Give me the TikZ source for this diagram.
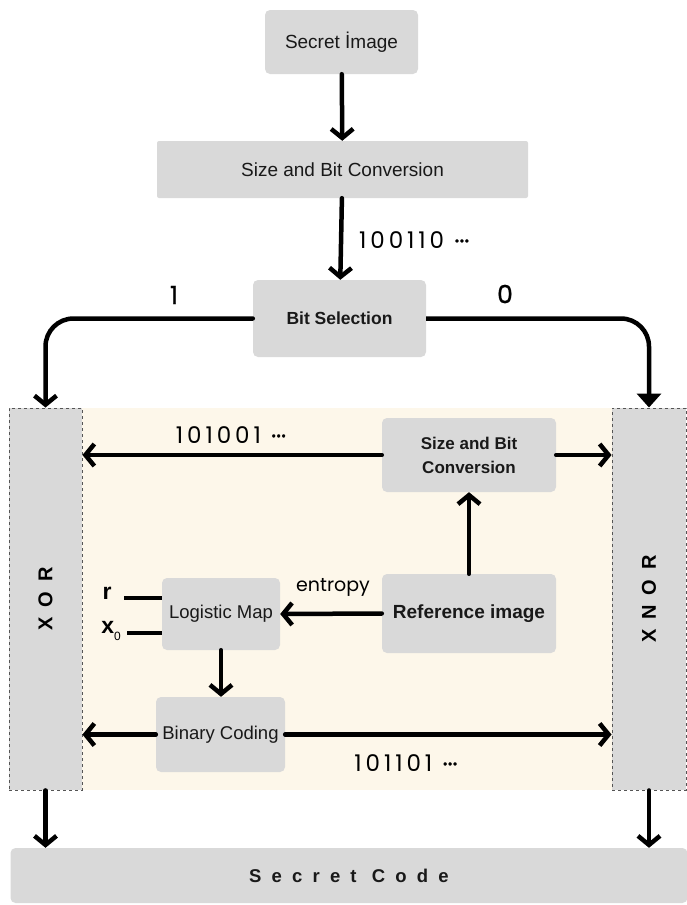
\documentclass[tikz,border=0pt]{standalone}
\usepackage{fontspec}
\setmainfont{Liberation Sans}
\newfontfamily\pop{Poppins}
\usetikzlibrary{arrows.meta}
\definecolor{boxgray}{HTML}{D9D9D9}
\definecolor{cream}{HTML}{FDF7EA}
\definecolor{dashgray}{HTML}{555555}
\newcommand{\numdots}{\raisebox{3.5pt}{\fontsize{12}{12}\selectfont\addfontfeature{FakeBold=2}•••}}
\newcommand{\bits}[1]{{\addfontfeature{LetterSpace=17}#1}\hspace{0.45em}\numdots}
\tikzset{
  box/.style={fill=boxgray, rounded corners=5pt, inner sep=0pt, align=center, text=black!90},
  gate/.style={fill=boxgray, draw=dashgray, dashed, line width=0.9pt, inner sep=0pt},
  gatetext/.style={rotate=90, font=\bfseries\fontsize{20}{22}\selectfont\addfontfeature{LetterSpace=50}},
  conn/.style={line width=4.5pt, line cap=round, -{Straight Barb[length=9pt,width=22pt,line width=4.5pt]}},
  connf/.style={line width=4.5pt, -{Triangle[length=14pt,width=24pt]}},
  plain/.style={line width=4.5pt},
  numlbl/.style={font=\pop\fontsize{23}{26}\selectfont, inner sep=0pt},
  bitlbl/.style={font=\pop\fontsize{25}{28}\selectfont\addfontfeature{FakeBold=1}, inner sep=0pt},
}
\begin{document}
\begin{tikzpicture}[x=1pt,y=-1pt]
\useasboundingbox (0,0) rectangle (686,905);
% cream background
\fill[cream] (82,408) rectangle (612,790);
% nodes
\node[box, minimum width=153pt, minimum height=64pt, font=\fontsize{19}{22}\selectfont] (si) at (341.5,42) {Secret İmage};
\node[box, rounded corners=2pt, minimum width=371pt, minimum height=57pt, font=\fontsize{19}{22}\selectfont] (sbc) at (342.5,169.5) {Size and Bit Conversion};
\node[box, minimum width=173pt, minimum height=77pt, font=\bfseries\fontsize{17.5}{21}\selectfont] (bs) at (339.5,318.5) {Bit Selection};
\node[gate, minimum width=73pt, minimum height=382pt] (xor) at (45.5,599) {};
\node[gatetext] (xort) at (xor.center) {XOR};
\node[gate, minimum width=74pt, minimum height=382pt] (xnor) at (649,599) {};
\node[gatetext] (xnort) at (xnor.center) {XNOR};
\node[box, minimum width=174pt, minimum height=74pt, font=\bfseries\fontsize{17}{24}\selectfont] (sbc2) at (469,455) {Size and Bit\\Conversion};
\node[box, minimum width=174pt, minimum height=79pt, font=\bfseries\fontsize{19}{22}\selectfont] (ref) at (469,613.5) {Reference image};
\node[box, minimum width=118pt, minimum height=72pt, font=\fontsize{18.5}{22}\selectfont] (lm) at (221,614) {Logistic Map};
\node[box, minimum width=129pt, minimum height=75pt, font=\fontsize{18.5}{22}\selectfont] (bc) at (220.5,734.5) {Binary Coding};
\node[box, minimum width=677pt, minimum height=55pt, font=\bfseries\fontsize{18.5}{22}\selectfont\addfontfeature{LetterSpace=55}] (sc) at (349,875.5) {Secret Code};
% connectors
\draw[conn] (si) -- (sbc);
\draw[conn] (sbc) -- (bs);
\draw[conn, rounded corners=28pt] (bs.west) -| (xor.north);
\draw[connf, rounded corners=28pt] (bs.east) -| (xnor.north);
\draw[conn] (sbc2.west) -- (xor.east |- sbc2.west);
\draw[conn] (sbc2.east) -- (xnor.west |- sbc2.east);
\draw[conn] (ref.north) -- (sbc2.south);
\draw[conn] (ref.west) -- (lm.east);
\draw[conn] (lm.south) -- (lm.south |- bc.north);
\draw[conn] (bc.west) -- (xor.east |- bc.west);
\draw[conn] (bc.east) -- (xnor.west |- bc.east);
\draw[conn] (xor.south) -- (xor.south |- sc.north);
\draw[conn] (xnor.south) -- (xnor.south |- sc.north);
\coordinate (rin) at (124,598);
\coordinate (xin) at (127,633);
\draw[plain] (rin) -- (lm.west |- rin);
\draw[plain] (xin) -- (lm.west |- xin);
% labels
\node[numlbl, anchor=west] (l1) at (359,240) {\bits{100110}};
\node[bitlbl] (lone) at (174,295) {1};
\node[bitlbl] (lzero) at (505,294) {0};
\node[numlbl] (l2) at (231,435) {\bits{101001}};
\node[numlbl] (l3) at (406,763) {\bits{101101}};
\node[font=\pop\fontsize{19}{22}\selectfont, inner sep=0pt] (ent) at (333,587) {entropy};
\node[font=\bfseries\fontsize{23}{24}\selectfont, inner sep=0pt] (lr) at (107,593) {r};
\node[font=\bfseries\fontsize{23}{24}\selectfont, inner sep=0pt] (lx) at (111,631) {x\raisebox{-0.3em}{\normalfont\fontsize{12}{12}\selectfont 0}};
\end{tikzpicture}
\end{document}
